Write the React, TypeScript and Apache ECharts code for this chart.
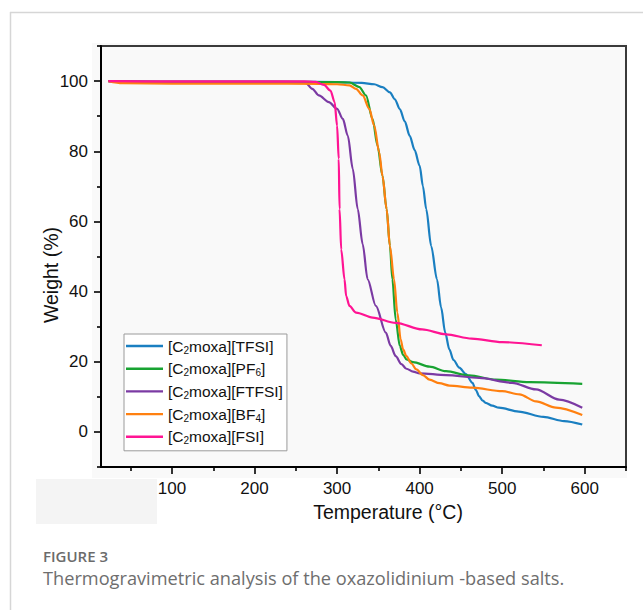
import React, { useEffect, useRef } from "react";
import * as echarts from "echarts";

const SERIES_NAMES = [
  "[C2moxa][TFSI]",
  "[C2moxa][PF6]",
  "[C2moxa][FTFSI]",
  "[C2moxa][BF4]",
  "[C2moxa][FSI]",
];
const COLORS = ["#1a7fc1", "#18a332", "#7b3aa3", "#ff8010", "#ff1493"];

const X_MAJOR = [100, 200, 300, 400, 500, 600];
const X_MINOR = [50, 150, 250, 350, 450, 550, 650];
const Y_MAJOR = [0, 20, 40, 60, 80, 100];
const Y_MINOR = [-10, 10, 30, 50, 70, 90, 110];

const T_TFSI = [23, 60, 120, 180, 240, 300, 330, 345, 355, 364, 370, 376, 382, 388, 394, 400, 404, 408, 414, 421, 426, 431, 436, 441, 448, 456, 464, 468, 472, 476, 480, 488, 496, 520, 550, 575, 597];
const W_TFSI = [100, 99.8, 99.8, 99.8, 99.8, 99.7, 99.5, 99.1, 98.3, 96.8, 94.8, 92.0, 88.5, 84.4, 80.3, 75.9, 70, 63.5, 53, 43.5, 35.5, 28.3, 23.5, 20.5, 18.3, 16.5, 14, 12, 10.2, 9, 8.3, 7.5, 6.9, 5.8, 4.3, 3.1, 2.1];

const T_PF6 = [23, 100, 200, 280, 300, 315, 327, 335, 343, 349, 355, 360, 364, 367, 371, 376, 380, 384, 392, 412, 432, 460, 492, 533, 597];
const W_PF6 = [100, 99.8, 99.8, 99.7, 99.7, 99.6, 98.3, 95.9, 89.2, 81.6, 73, 63.5, 53, 43.5, 32, 24.5, 22, 20.7, 19.9, 18.6, 17.3, 16.1, 14.9, 14.2, 13.7];

const T_FTFSI = [23, 100, 200, 250, 262, 270, 278, 290, 300, 307, 313, 319, 325, 331, 337, 347, 359, 365, 371, 378, 384, 392, 400, 432, 472, 512, 541, 569, 597];
const W_FTFSI = [100, 99.8, 99.8, 99.7, 99.5, 97.8, 95.9, 94, 92.1, 89.2, 84.4, 75, 63.5, 53.5, 43.5, 35.9, 28.3, 24.5, 21.6, 19.3, 18, 17.2, 16.7, 16.2, 15.4, 14, 12.1, 9.2, 6.9];

const T_BF4 = [23, 40, 100, 200, 280, 300, 315, 323, 331, 339, 345, 351, 355, 360, 364, 369, 373, 377, 380, 384, 390, 396, 404, 412, 424, 436, 464, 500, 521, 541, 565, 597];
const W_BF4 = [100, 99.4, 99.3, 99.3, 99.2, 99.1, 98.8, 97.8, 95.9, 92.1, 87.3, 79.7, 73, 63.5, 53, 43.5, 34, 26.4, 23.5, 21.6, 19.5, 17.8, 16.2, 14.9, 13.9, 13.2, 12.6, 11.6, 10.7, 8.7, 6.9, 4.8];

const T_FSI = [23, 100, 200, 260, 274, 284, 292, 297, 300, 302, 303, 305, 309, 311, 315, 323, 343, 371, 403, 432, 463, 500, 548];
const W_FSI = [100, 99.9, 99.9, 99.9, 99.8, 98.9, 97.3, 94, 87.3, 77.8, 63.5, 52, 43.5, 38.7, 35.9, 34, 32.6, 31.1, 29.2, 27.8, 26.6, 25.6, 24.7];

const TS = [T_TFSI, T_PF6, T_FTFSI, T_BF4, T_FSI];
const WS = [W_TFSI, W_PF6, W_FTFSI, W_BF4, W_FSI];

const FONT = "Liberation Sans, Arial, Helvetica, sans-serif";
const CAP_FONT = "Open Sans, Noto Sans, sans-serif";

function zip(t: number[], w: number[]) {
  return t.map((v, i) => [v, w[i]]);
}

function legendFormatter(name: string) {
  return name.replace("C2", "C{s|2}").replace(/(PF|BF)(\d)/, "$1{s|$2}");
}

function buildOption() {
  const axisCommon = {
    type: "value" as const,
    splitLine: { show: false },
  };
  return {
    animation: false,
    backgroundColor: "#ffffff",
    textStyle: { fontFamily: FONT },
    grid: {
      left: 101,
      top: 46,
      width: 525,
      height: 421,
      show: true,
      backgroundColor: "#f9f9f9",
      borderColor: "#3a3a3a",
      borderWidth: 2,
    },
    xAxis: [
      {
        ...axisCommon,
        min: 14,
        max: 650,
        axisLine: { show: true, onZero: false, lineStyle: { color: "#000", width: 2 } },
        axisTick: { show: true, customValues: X_MAJOR, length: 7, lineStyle: { color: "#000", width: 1.6 } },
        axisLabel: { show: true, customValues: X_MAJOR, fontSize: 17, color: "#111", margin: 13, fontFamily: FONT },
      },
      {
        ...axisCommon,
        min: 14,
        max: 650,
        position: "bottom",
        axisLine: { show: false, onZero: false },
        axisTick: { show: true, customValues: X_MINOR, length: 4, lineStyle: { color: "#000", width: 1.6 } },
        axisLabel: { show: false },
      },
    ],
    yAxis: [
      {
        ...axisCommon,
        min: -10,
        max: 110,
        axisLine: { show: true, onZero: false, lineStyle: { color: "#000", width: 2 } },
        axisTick: { show: true, customValues: Y_MAJOR, length: 7, lineStyle: { color: "#000", width: 1.6 } },
        axisLabel: { show: true, customValues: Y_MAJOR, fontSize: 17, color: "#111", margin: 13, fontFamily: FONT },
      },
      {
        ...axisCommon,
        min: -10,
        max: 110,
        position: "left",
        axisLine: { show: false, onZero: false },
        axisTick: { show: true, customValues: Y_MINOR, length: 4, lineStyle: { color: "#000", width: 1.6 } },
        axisLabel: { show: false },
      },
    ],
    legend: {
      orient: "vertical",
      left: 124,
      top: 334,
      padding: [3, 4, 5, 2],
      itemGap: 4.7,
      itemWidth: 37,
      itemHeight: 2.4,
      icon: "rect",
      backgroundColor: "#ffffff",
      borderColor: "#9a9a9a",
      borderWidth: 1,
      borderRadius: 0,
      data: SERIES_NAMES,
      formatter: legendFormatter,
      textStyle: {
        fontSize: 15.5,
        lineHeight: 18,
        color: "#111",
        fontFamily: FONT,
        rich: {
          s: { fontSize: 10, lineHeight: 10, verticalAlign: "bottom", fontFamily: FONT, color: "#111" },
        },
      },
    },
    series: SERIES_NAMES.map((name, i) => ({
      name,
      type: "line",
      xAxisIndex: 0,
      yAxisIndex: 0,
      data: zip(TS[i], WS[i]),
      symbol: "none",
      showSymbol: false,
      smooth: 0.3,
      smoothMonotone: "x",
      lineStyle: { color: COLORS[i], width: 2.2 },
      itemStyle: { color: COLORS[i] },
      z: 2 + i,
    })),
    graphic: [
      {
        type: "rect",
        z: -10,
        silent: true,
        shape: { x: 92, y: 43, width: 535, height: 435 },
        style: { fill: "#f9f9f9" },
      },
      {
        type: "rect",
        z: -10,
        silent: true,
        shape: { x: 36, y: 479, width: 121, height: 45 },
        style: { fill: "#f4f4f4" },
      },
      {
        type: "line",
        z: -5,
        silent: true,
        shape: { x1: 10, y1: 12.5, x2: 643, y2: 12.5 },
        style: { stroke: "#d6d6d6", lineWidth: 1.5 },
      },
      {
        type: "line",
        z: -5,
        silent: true,
        shape: { x1: 10.5, y1: 12, x2: 10.5, y2: 610 },
        style: { stroke: "#d6d6d6", lineWidth: 1.5 },
      },
      {
        type: "text",
        x: 51,
        y: 275,
        rotation: Math.PI / 2,
        style: {
          text: "Weight (%)",
          fontSize: 19.5,
          fontFamily: FONT,
          fill: "#111",
          align: "center",
          verticalAlign: "middle",
        },
      },
      {
        type: "text",
        x: 388,
        y: 512,
        style: {
          text: "Temperature (°C)",
          fontSize: 19.5,
          fontFamily: FONT,
          fill: "#111",
          align: "center",
          verticalAlign: "middle",
        },
      },
      {
        type: "text",
        x: 43,
        y: 556,
        style: {
          text: "FIGURE 3",
          fontSize: 15,
          lineHeight: 15,
          fontWeight: 600,
          fontFamily: CAP_FONT,
          fill: "#6b6b6b",
          align: "left",
          verticalAlign: "middle",
        },
      },
      {
        type: "text",
        x: 43,
        y: 578,
        style: {
          text: "Thermogravimetric analysis of the oxazolidinium -based salts.",
          fontSize: 18.2,
          lineHeight: 18,
          fontFamily: CAP_FONT,
          fill: "#6e6e6e",
          align: "left",
          verticalAlign: "middle",
        },
      },
    ],
  };
}

export default function App() {
  const ref = useRef<HTMLDivElement>(null);
  useEffect(() => {
    if (!ref.current) return;
    const chart = echarts.init(ref.current, null, { renderer: "svg", width: 643, height: 610 });
    chart.setOption(buildOption() as any);
    return () => chart.dispose();
  }, []);
  return (
    <div
      ref={ref}
      style={{ position: "absolute", left: 0, top: 0, width: 643, height: 610, background: "#fff" }}
    />
  );
}
